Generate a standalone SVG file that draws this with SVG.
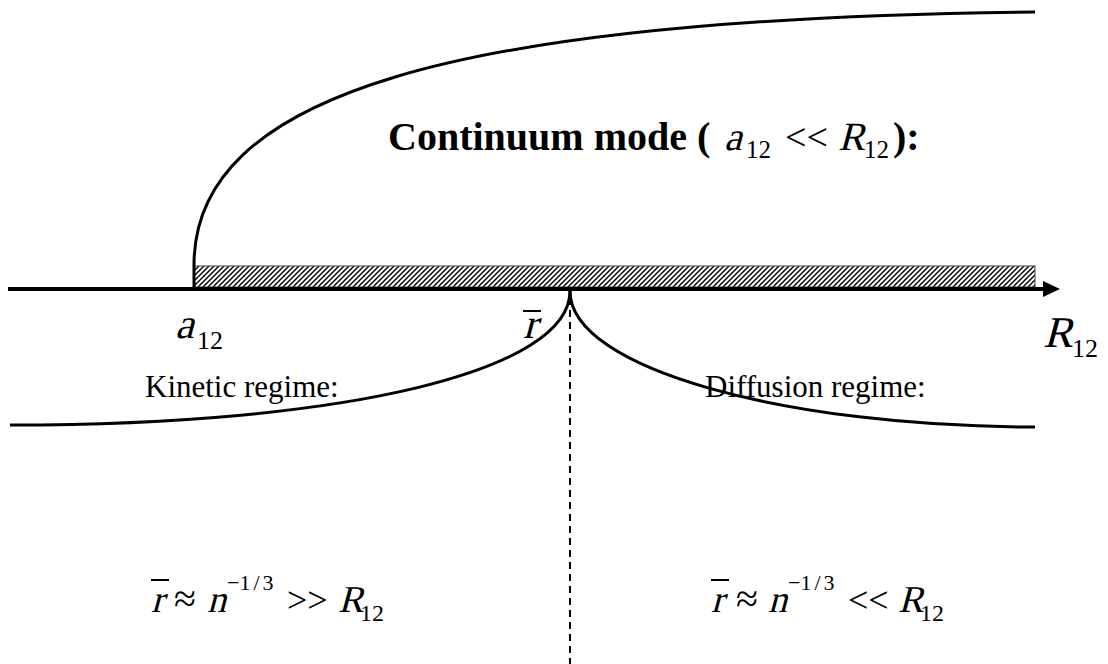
<svg xmlns="http://www.w3.org/2000/svg" width="1108" height="664" viewBox="0 0 1108 664">
<defs>
<pattern id="hatch" patternUnits="userSpaceOnUse" width="5" height="5">
<rect width="5" height="5" fill="#fff"/>
<path d="M-1,1 L1,-1 M0,5 L5,0 M4,6 L6,4" stroke="#000" stroke-width="1.4"/>
</pattern>
<style>
.curve{fill:none;stroke:#000;stroke-width:3}
.t{font-family:"Liberation Serif","Times New Roman",serif;fill:#000}
.b{font-weight:bold}
.bar{stroke:#000;stroke-width:2}
</style>
</defs>
<rect width="1108" height="664" fill="#fff"/>
<g id="band">
<rect x="194" y="266" width="841" height="21" fill="url(#hatch)" stroke="#444" stroke-width="1"/>
</g>
<g id="connectors">
<line x1="8" y1="289" x2="1046" y2="289" stroke="#000" stroke-width="4"/>
<polygon points="1043,281 1060,289 1043,297" fill="#000"/>
<path class="curve" d="M194,289 L194,265 C194,95 450,18 1035,12"/>
<path class="curve" d="M570,291 C570,370 350,425 10,425"/>
<path class="curve" d="M570,291 C570,370 790,427 1035,427"/>
<line x1="570" y1="298" x2="570" y2="664" stroke="#000" stroke-width="2" stroke-dasharray="7,5"/>
</g>
<g id="title">
<text class="t b" x="388" y="150" font-size="40">Continuum mode (</text>
<text class="t" transform="translate(724,150) skewX(-15)" font-size="40">a</text>
<text class="t" x="746" y="158" font-size="25">12</text>
<text class="t" x="785" y="150" font-size="38">&lt;&lt;</text>
<text class="t" transform="translate(838,150) skewX(-15)" font-size="40">R</text>
<text class="t" x="864" y="158" font-size="25">12</text>
<text class="t b" x="893" y="150" font-size="40">):</text>
</g>
<g id="label-a12">
<text class="t" transform="translate(175,338) skewX(-15)" font-size="42">a</text>
<text class="t" x="197" y="349" font-size="26">12</text>
</g>
<g id="label-rbar">
<text class="t" transform="translate(523,338) skewX(-15)" font-size="42">r</text>
<line class="bar" x1="523" y1="311" x2="541" y2="311"/>
</g>
<g id="label-R12">
<text class="t" transform="translate(1043,347) skewX(-15)" font-size="44">R</text>
<text class="t" x="1072" y="357" font-size="26">12</text>
</g>
<g id="kinetic">
<text class="t" x="145" y="397" font-size="31">Kinetic regime:</text>
</g>
<g id="diffusion">
<text class="t" x="705" y="397" font-size="31">Diffusion regime:</text>
</g>
<g id="formula-left">
<text class="t" transform="translate(151,612) skewX(-15)" font-size="38">r</text>
<line class="bar" x1="151" y1="580" x2="169" y2="580"/>
<text class="t" x="174" y="612" font-size="40">≈</text>
<text class="t" transform="translate(207,612) skewX(-15)" font-size="38">n</text>
<text class="t" x="227" y="590" font-size="22">−1<tspan dx="3">/</tspan><tspan dx="3">3</tspan></text>
<text class="t" x="287" y="612" font-size="36">&gt;&gt;</text>
<text class="t" transform="translate(338,612) skewX(-15)" font-size="38">R</text>
<text class="t" x="360" y="621" font-size="24">12</text>
</g>
<g id="formula-right">
<text class="t" transform="translate(711,612) skewX(-15)" font-size="38">r</text>
<line class="bar" x1="711" y1="580" x2="729" y2="580"/>
<text class="t" x="736" y="612" font-size="40">≈</text>
<text class="t" transform="translate(768,612) skewX(-15)" font-size="38">n</text>
<text class="t" x="788" y="590" font-size="22">−1<tspan dx="3">/</tspan><tspan dx="3">3</tspan></text>
<text class="t" x="848" y="612" font-size="36">&lt;&lt;</text>
<text class="t" transform="translate(898,612) skewX(-15)" font-size="38">R</text>
<text class="t" x="920" y="621" font-size="24">12</text>
</g>
</svg>
